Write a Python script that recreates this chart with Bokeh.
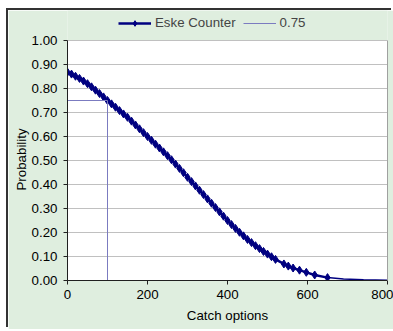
from bokeh.plotting import figure
from bokeh.models import (Legend, LegendItem, FixedTicker, NumeralTickFormatter, Range1d,
                          LinearAxis, Title)
from bokeh.embed import file_html
from bokeh.resources import INLINE

# Eske Counter series (catch options vs probability)
catch = [0, 10, 20, 30, 40, 50, 60, 70, 80, 90, 100, 110, 120, 130, 140, 150, 160, 170, 180, 190,
         200, 210, 220, 230, 240, 250, 260, 270, 280, 290, 300, 310, 320, 330, 340, 350, 360, 370,
         380, 390, 400, 410, 420, 430, 440, 450, 460, 470, 480, 490, 500, 510, 520,
         541, 552, 564, 580, 597, 618, 650]
prob = [0.868, 0.860, 0.851, 0.842, 0.831, 0.820, 0.807, 0.793, 0.779, 0.765, 0.750, 0.736, 0.722,
        0.708, 0.694, 0.680, 0.664, 0.648, 0.632, 0.616, 0.600, 0.584, 0.568, 0.552, 0.536, 0.520,
        0.503, 0.485, 0.467, 0.449, 0.430, 0.412, 0.394, 0.376, 0.358, 0.340, 0.322, 0.304, 0.286,
        0.268, 0.250, 0.233, 0.217, 0.201, 0.186, 0.171, 0.158, 0.145, 0.133, 0.121, 0.110, 0.099,
        0.088, 0.069, 0.060, 0.052, 0.043, 0.034, 0.023, 0.012]
# tail of the curve drawn without markers
tail_catch = [650, 690, 740, 800, 850]
tail_prob = [0.012, 0.006, 0.003, 0.001, 0.0]

# 0.75 reference series
ref_x = [0, 100, 100]
ref_y = [0.75, 0.75, 0.0]

x_ticks = [0, 200, 400, 600, 800]
y_ticks = [0.0, 0.1, 0.2, 0.3, 0.4, 0.5, 0.6, 0.7, 0.8, 0.9, 1.0]

BG = "#DFEEDF"
NAVY = "#000080"
REF = "#7B7BC0"
FONT = "Liberation Sans"
FS = "13.3px"

p = figure(width=385, height=319, output_backend="svg", toolbar_location=None,
           x_range=Range1d(0, 800), y_range=Range1d(0, 1.125),
           min_border_left=59, min_border_right=6, min_border_top=0, min_border_bottom=49)
p.styles = {"margin-left": "8px", "margin-top": "10px",
            "box-shadow": "-2px -2px 0px 0px #333333"}
p.background_fill_color = BG
p.border_fill_color = BG
p.outline_line_color = None

# white plotting area
plot_area = p.quad(left=[x_ticks[0]], right=[x_ticks[-1]], bottom=[y_ticks[0]], top=[y_ticks[-1]],
                   fill_color="white", line_color=None, level="image")

p.xgrid.visible = False
p.ygrid.grid_line_color = "#C0C0C0"
p.ygrid.grid_line_width = 1

for ax in (p.xaxis[0], p.yaxis[0]):
    ax.axis_line_color = "#202020"
    ax.major_tick_line_color = "#202020"
    ax.major_tick_in = 0
    ax.major_tick_out = 4
    ax.minor_tick_line_color = None
    ax.major_label_text_font = FONT
    ax.major_label_text_font_size = FS
    ax.major_label_text_color = "black"
    ax.axis_label_text_font = FONT
    ax.axis_label_text_font_size = FS
    ax.axis_label_text_font_style = "normal"
    ax.axis_label_text_color = "black"

p.xaxis.ticker = FixedTicker(ticks=x_ticks)
p.yaxis.ticker = FixedTicker(ticks=y_ticks)
p.yaxis.bounds = (y_ticks[0], y_ticks[-1])
p.yaxis.formatter = NumeralTickFormatter(format="0.00")
p.xaxis.axis_label = "Catch options"
p.xaxis.major_label_standoff = 5
p.xaxis.axis_label_standoff = 6
p.yaxis.major_label_standoff = 6

# right edge of plotting area
right_edge = LinearAxis(ticker=FixedTicker(ticks=[]), bounds=(y_ticks[0], y_ticks[-1]),
                        axis_line_color="#A0A0A0", major_tick_line_color=None,
                        minor_tick_line_color=None)
p.add_layout(right_edge, "right")

# y axis title, centred on the plotting area
p.add_layout(Title(text="Probability", align="left", offset=90, text_font=FONT,
                   text_font_size=FS, text_font_style="normal", text_color="black",
                   standoff=0), "left")

tail = p.line(tail_catch, tail_prob, line_color=NAVY, line_width=1.5)
main_line = p.line(catch, prob, line_color=NAVY, line_width=2.5)
main_pts = p.scatter(catch, prob, marker="diamond", size=8, fill_color=NAVY, line_color=NAVY)
ref = p.line(ref_x, ref_y, line_color=REF, line_width=1)

legend = Legend(items=[LegendItem(label="Eske Counter", renderers=[main_line, main_pts]),
                       LegendItem(label="0.75", renderers=[ref])],
                orientation="horizontal", location=(51, 250),
                background_fill_alpha=0, border_line_color=None,
                label_text_font=FONT, label_text_font_size=FS,
                glyph_width=33, glyph_height=14, spacing=7, padding=2, margin=0,
                label_standoff=4, label_height=14)
p.add_layout(legend, "center")

open("out.html", "w").write(file_html(p, INLINE))
